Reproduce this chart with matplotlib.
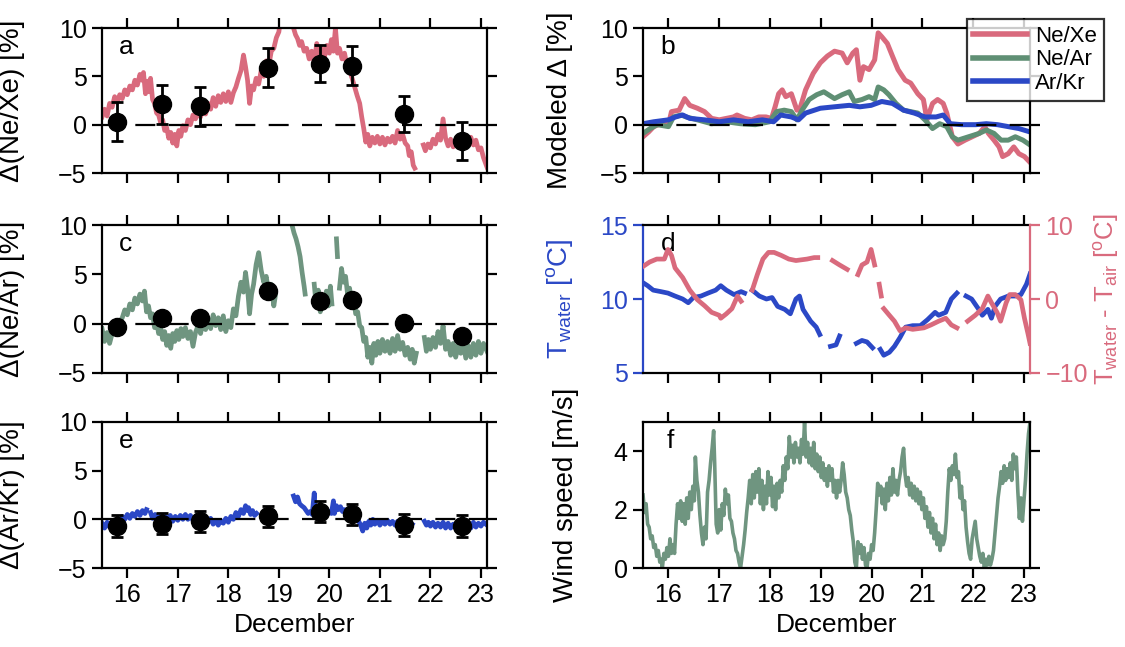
import numpy as np
import matplotlib
matplotlib.use("Agg")
import matplotlib.pyplot as plt

plt.rcParams['font.family'] = ['Liberation Sans', 'DejaVu Sans']
plt.rcParams['mathtext.default'] = 'regular'

# ---- colours ----
PINK = '#d96a7d'
GREEN = '#6f9580'
GREEN_B = '#5f8f74'
BLUE = '#2b48c6'

# ---- measured ratios (day of December, percent); None marks a gap ----
nexe_meas = [
    (15.50, 0.8), (15.55, 1.6), (15.60, 0.9), (15.65, 2.2), (15.70, 1.8), (15.75, 2.9), (15.80, 2.3),
    (15.85, 3.1), (15.90, 2.7), (15.95, 3.6), (16.00, 3.1), (16.05, 4.0), (16.10, 3.6), (16.15, 4.6),
    (16.20, 4.1), (16.25, 5.2), (16.29, 4.6), (16.32, 5.4), (16.36, 3.2), (16.40, 4.5), (16.43, 3.4),
    (16.46, 4.8), (16.50, 2.6), (16.54, 2.2), (16.58, 1.2), (16.62, 1.0), (16.66, 0.2), (16.70, 0.5),
    (16.74, -0.6), (16.78, -0.3), (16.82, -1.4), (16.86, -0.8), (16.90, -1.9), (16.94, -1.0),
    (16.98, -2.2), (17.02, -0.6), (17.06, -1.2), (17.10, -0.1), (17.15, -0.6), (17.20, 0.5),
    (17.25, 0.0), (17.30, 1.0), (17.35, 0.6), (17.40, 1.3), (17.45, 0.8), (17.50, 1.7), (17.55, 1.1),
    (17.60, 2.2), (17.65, 1.6), (17.70, 2.8), (17.75, 1.9), (17.80, 3.0), (17.85, 2.3), (17.90, 3.2),
    (17.95, 2.4), (18.00, 3.4), (18.05, 2.3), (18.10, 3.3), (18.15, 3.9), (18.20, 4.8), (18.25, 5.6),
    (18.30, 7.2), (18.34, 6.0), (18.38, 4.6), (18.42, 2.2), (18.46, 4.0), (18.50, 3.6), (18.55, 4.8),
    (18.60, 4.2), (18.65, 5.6), (18.70, 5.0), (18.75, 6.6), (18.80, 6.1), (18.85, 7.6), (18.90, 7.9),
    (18.95, 9.0), (19.00, 9.6), (19.02, 10.4), (19.10, None),
    (19.27, 10.4), (19.29, 10.0), (19.33, 9.3), (19.37, 8.9), (19.41, 8.2), (19.45, 8.6), (19.50, 7.6),
    (19.55, 7.9), (19.60, 6.8), (19.65, 7.6), (19.70, 6.4), (19.75, 8.4), (19.80, 7.2), (19.85, 7.9),
    (19.90, 6.9), (19.95, 8.2), (20.00, 7.4), (20.04, 8.8), (20.08, 7.6), (20.12, 10.0), (20.16, 7.4),
    (20.20, 7.9), (20.25, 6.8), (20.30, 7.4), (20.35, 6.0), (20.40, 5.6), (20.45, 4.8), (20.50, 3.9),
    (20.55, 3.0), (20.60, 2.2), (20.64, 0.8), (20.68, -0.4), (20.72, -1.8), (20.76, -1.0),
    (20.80, -2.2), (20.85, -1.3), (20.90, -1.9), (20.95, -1.2), (21.00, -2.0), (21.05, -1.3),
    (21.10, -2.1), (21.15, -1.4), (21.20, -1.8), (21.25, -1.2), (21.30, -1.9), (21.35, -0.6),
    (21.40, -1.5), (21.45, -1.0), (21.50, -1.9), (21.55, -2.2), (21.58, -3.2), (21.62, -2.8),
    (21.66, -4.2), (21.69, -4.5), (21.75, None),
    (21.86, -2.1), (21.90, -2.7), (21.95, -2.0), (22.00, -2.4), (22.05, -1.5), (22.10, -2.0),
    (22.15, -1.0), (22.20, -1.6), (22.25, 0.6), (22.30, -1.4), (22.35, -2.2), (22.40, -1.5),
    (22.45, -2.3), (22.50, -1.6), (22.55, -2.2), (22.60, -1.4), (22.65, -2.0), (22.70, -1.1),
    (22.75, -1.8), (22.80, -1.3), (22.85, -2.1), (22.90, -1.6), (22.95, -2.6), (23.00, -2.4),
    (23.05, -3.4), (23.12, -4.4),
]

near_meas = [
    (15.50, -0.5), (15.55, -1.8), (15.60, -0.9), (15.65, -2.0), (15.70, -1.0), (15.75, -0.3),
    (15.80, -0.8), (15.85, 0.2), (15.90, 0.6), (15.95, 1.4), (16.00, 0.9), (16.05, 2.0), (16.10, 1.4),
    (16.15, 2.6), (16.20, 2.0), (16.25, 3.0), (16.30, 2.3), (16.34, 3.3), (16.38, 1.2), (16.42, 1.8),
    (16.46, 0.6), (16.50, 1.0), (16.54, -0.4), (16.58, 0.2), (16.62, -1.0), (16.66, -0.4),
    (16.70, -1.6), (16.74, -0.8), (16.78, -2.2), (16.82, -1.2), (16.86, -2.5), (16.90, -1.0),
    (16.94, -1.8), (16.98, -0.7), (17.02, -1.6), (17.06, -0.5), (17.10, -1.3), (17.15, -0.4),
    (17.20, -1.5), (17.25, -0.8), (17.30, -2.3), (17.35, -0.9), (17.40, -0.2), (17.45, -1.0),
    (17.50, 0.2), (17.55, -0.6), (17.60, 0.5), (17.65, -0.5), (17.70, 0.9), (17.75, -0.2),
    (17.80, 0.6), (17.85, -0.6), (17.90, 0.8), (17.95, -0.8), (18.00, 0.3), (18.05, -0.4),
    (18.10, 1.5), (18.15, 0.8), (18.20, 2.8), (18.25, 4.2), (18.30, 3.2), (18.34, 5.2), (18.38, 3.6),
    (18.42, 1.0), (18.46, 3.0), (18.50, 4.0), (18.55, 6.0), (18.60, 7.2), (18.65, 5.4), (18.70, 4.2),
    (18.75, 4.8), (18.80, 3.0), (18.85, 4.0), (18.90, 1.8), (18.93, 2.8), (19.00, None),
    (19.26, 10.0), (19.30, 9.2), (19.34, 8.6), (19.38, 7.8), (19.42, 6.8), (19.46, 5.2), (19.50, 3.8),
    (19.52, 3.0), (19.60, None),
    (19.70, 4.0), (19.74, 1.8), (19.78, 3.4), (19.82, 1.2), (19.86, 2.8), (19.90, 1.6), (19.94, 3.3),
    (19.98, 1.8), (20.02, 3.8), (20.05, 2.0), (20.10, None),
    (20.14, 8.6), (20.16, 6.8), (20.18, None),
    (20.20, 3.6), (20.24, 5.6), (20.28, 4.2), (20.32, 4.8), (20.36, 3.0), (20.40, 3.6), (20.44, 2.0),
    (20.48, 2.6), (20.52, 1.0), (20.56, 1.2), (20.60, -0.2), (20.64, -0.4), (20.68, -1.8),
    (20.72, -1.4), (20.76, -3.4), (20.80, -2.4), (20.84, -4.0), (20.88, -2.0), (20.92, -3.2),
    (20.96, -1.8), (21.00, -3.0), (21.05, -1.6), (21.10, -2.8), (21.15, -1.8), (21.20, -3.0),
    (21.25, -1.5), (21.30, -2.8), (21.35, -1.2), (21.40, -2.6), (21.45, -1.9), (21.50, -3.2),
    (21.55, -2.4), (21.60, -3.6), (21.64, -2.6), (21.68, -4.0), (21.72, -3.0), (21.80, None),
    (21.88, -1.4), (21.92, -2.8), (21.96, -1.6), (22.00, -2.6), (22.05, -1.4), (22.10, -2.4),
    (22.15, -0.8), (22.20, -2.0), (22.25, -0.2), (22.30, -2.6), (22.35, -1.8), (22.40, -3.2),
    (22.45, -2.0), (22.50, -3.4), (22.55, -2.2), (22.60, -3.0), (22.65, -2.0), (22.70, -3.5),
    (22.75, -2.2), (22.80, -3.4), (22.85, -2.0), (22.90, -3.2), (22.95, -1.8), (23.00, -3.0),
    (23.05, -2.0), (23.12, -2.8),
]

arkr_meas = [
    (15.50, -0.4), (15.55, -0.9), (15.60, -0.3), (15.65, -0.8), (15.70, -0.2), (15.75, -0.5),
    (15.80, 0.0), (15.85, -0.3), (15.90, 0.3), (15.95, 0.0), (16.00, 0.5), (16.05, 0.1), (16.10, 0.6),
    (16.15, 0.3), (16.20, 0.8), (16.25, 0.4), (16.30, 0.9), (16.35, 0.6), (16.38, 1.0), (16.42, None),
    (16.46, 0.7), (16.50, 0.1), (16.55, 0.5), (16.60, -0.1), (16.65, 0.3), (16.70, -0.2), (16.75, 0.3),
    (16.80, -0.1), (16.85, 0.4), (16.90, -0.2), (16.95, 0.3), (17.00, -0.1), (17.05, 0.4), (17.10, 0.0),
    (17.15, 0.5), (17.20, 0.0), (17.25, 0.4), (17.30, -0.1), (17.35, 0.3), (17.40, -0.2), (17.45, 0.2),
    (17.50, -0.3), (17.55, 0.2), (17.60, -0.3), (17.65, 0.1), (17.70, -0.5), (17.75, -0.1),
    (17.80, -0.6), (17.85, -0.1), (17.90, -0.4), (17.95, 0.1), (18.00, -0.3), (18.05, 0.3),
    (18.10, 0.0), (18.15, 0.7), (18.20, 0.3), (18.25, 1.0), (18.30, 0.6), (18.34, 1.4), (18.38, 0.9),
    (18.40, 1.2), (18.44, 0.5), (18.48, 0.9), (18.52, 0.4), (18.56, 0.6), (18.60, None),
    (19.29, 2.4), (19.33, 1.8), (19.37, 2.3), (19.41, 1.6), (19.45, 1.4), (19.50, 1.2), (19.54, 0.9),
    (19.58, 0.6), (19.62, 0.8), (19.66, 0.5), (19.70, 2.7), (19.72, 0.6), (19.76, 0.8), (19.80, 0.4),
    (19.84, 0.9), (19.88, 0.5), (19.92, 0.7), (19.96, 0.5), (20.00, 0.8), (20.04, 0.6), (20.08, 1.9),
    (20.10, 0.6), (20.14, 1.4), (20.18, 1.0), (20.22, 1.3), (20.26, 0.8), (20.30, 1.0), (20.34, 0.6),
    (20.38, 0.8), (20.42, 0.4), (20.46, 0.6), (20.50, 0.2), (20.54, 0.4), (20.58, -0.2),
    (20.62, -0.6), (20.66, -1.2), (20.70, -0.4), (20.74, -0.9), (20.78, -0.2), (20.82, -0.6),
    (20.86, 0.0), (20.90, -0.5), (20.95, -0.1), (21.00, -0.6), (21.05, -0.2), (21.10, -0.5),
    (21.15, -0.1), (21.20, -0.5), (21.25, -0.2), (21.30, -0.6), (21.35, -0.2), (21.40, -0.7),
    (21.45, -0.3), (21.50, -0.7), (21.55, -0.4), (21.60, -0.8), (21.64, -0.5), (21.70, None),
    (21.88, -0.2), (21.92, -0.6), (21.96, -0.3), (22.00, -0.7), (22.05, -0.3), (22.10, -0.8),
    (22.15, -0.4), (22.20, -0.8), (22.25, -0.3), (22.30, -0.9), (22.35, -0.4), (22.40, -0.9),
    (22.45, -0.5), (22.50, -0.9), (22.55, -0.4), (22.60, -0.8), (22.65, -0.5), (22.70, -1.0),
    (22.75, -0.4), (22.80, -0.9), (22.85, -0.3), (22.90, -0.8), (22.95, -0.4), (23.00, -0.7),
    (23.05, -0.3), (23.12, -0.6),
]

# ---- discrete samples with uncertainty ----
sample_day = [15.79, 16.69, 17.43, 18.78, 19.81, 20.44, 21.47, 22.63]
nexe_pts = [0.3, 2.1, 1.9, 5.9, 6.3, 6.1, 1.1, -1.7]
nexe_err = [2.0, 2.0, 2.0, 2.0, 1.9, 2.0, 1.9, 2.0]
near_pts = [-0.3, 0.6, 0.6, 3.3, 2.3, 2.4, 0.1, -1.3]
near_err = [0.5, 0.5, 0.5, 0.5, 0.5, 0.5, 0.5, 0.5]
arkr_pts = [-0.7, -0.45, -0.2, 0.3, 0.8, 0.5, -0.6, -0.7]
arkr_err = [1.1, 1.1, 1.1, 1.1, 1.1, 1.1, 1.1, 1.1]

# ---- modelled ratios ----
model_nexe = [
    (15.50, -1.25), (15.61, -0.75), (15.71, -0.2), (15.85, 0.1), (16.00, 0.0), (16.06, 1.35),
    (16.21, 1.5), (16.32, 2.7), (16.42, 2.0), (16.57, 1.7), (16.71, 1.35), (16.85, 0.65),
    (17.00, 0.5), (17.14, 0.65), (17.28, 0.8), (17.35, 1.0), (17.50, 0.65), (17.64, 0.5),
    (17.78, 0.8), (17.92, 0.8), (18.03, 0.65), (18.10, 1.85), (18.17, 3.2), (18.24, 3.6),
    (18.31, 2.9), (18.42, 3.2), (18.53, 1.5), (18.60, 1.85), (18.70, 3.6), (18.85, 5.3),
    (18.99, 6.4), (19.13, 7.1), (19.27, 7.6), (19.42, 7.4), (19.52, 6.4), (19.63, 7.4),
    (19.70, 7.75), (19.77, 4.6), (19.84, 6.0), (19.95, 5.7), (20.06, 6.7), (20.13, 9.5),
    (20.20, 9.1), (20.31, 8.4), (20.41, 7.1), (20.52, 5.7), (20.66, 4.6), (20.77, 4.3),
    (20.91, 3.2), (21.02, 2.6), (21.09, 0.5), (21.20, 2.2), (21.30, 2.6), (21.41, 2.2),
    (21.48, 1.2), (21.59, -1.25), (21.70, -2.0), (21.84, -1.6), (21.98, -1.25), (22.12, -0.9),
    (22.23, -0.2), (22.30, -0.9), (22.41, -1.6), (22.51, -2.3), (22.58, -3.3), (22.69, -3.0),
    (22.80, -2.3), (22.90, -3.0), (23.01, -3.3), (23.12, -3.9),
]
model_near = [
    (15.50, -0.9), (15.64, -0.4), (15.78, 0.0), (16.00, -0.2), (16.10, 0.8), (16.25, 1.0),
    (16.35, 0.8), (16.57, 0.5), (16.85, 0.1), (17.14, 0.3), (17.42, 0.1), (17.71, 0.0),
    (17.99, 0.3), (18.13, 1.35), (18.28, 1.5), (18.42, 1.35), (18.53, 0.5), (18.63, 1.5),
    (18.77, 2.6), (18.92, 3.1), (19.06, 3.4), (19.27, 2.7), (19.42, 3.1), (19.56, 3.4),
    (19.66, 2.4), (19.81, 2.6), (19.95, 2.9), (20.06, 2.6), (20.13, 3.9), (20.24, 3.6),
    (20.34, 3.1), (20.48, 2.2), (20.63, 1.5), (20.77, 1.35), (20.91, 1.2), (21.05, 0.5),
    (21.20, -0.4), (21.34, 0.1), (21.48, -0.2), (21.59, -1.25), (21.70, -1.6), (21.91, -1.25),
    (22.12, -0.9), (22.26, -0.55), (22.41, -0.9), (22.55, -1.6), (22.69, -1.6), (22.83, -1.25),
    (22.98, -1.6), (23.12, -2.1),
]
model_arkr = [
    (15.50, 0.1), (15.71, 0.3), (16.00, 0.5), (16.14, 0.8), (16.28, 1.0), (16.42, 0.65),
    (16.71, 0.5), (17.00, 0.3), (17.28, 0.5), (17.57, 0.3), (17.85, 0.5), (18.07, 0.3),
    (18.21, 1.0), (18.42, 0.8), (18.56, 0.5), (18.70, 1.2), (18.99, 1.7), (19.27, 1.85),
    (19.56, 2.0), (19.77, 1.85), (19.99, 2.0), (20.20, 2.4), (20.41, 2.2), (20.63, 1.5),
    (20.84, 1.2), (21.05, 0.8), (21.27, 0.8), (21.41, 1.0), (21.55, 0.1), (21.77, 0.0),
    (22.05, 0.0), (22.26, 0.1), (22.48, 0.0), (22.69, -0.2), (22.90, -0.4), (23.12, -0.75),
]

# ---- water temperature and water-air difference ----
t_water = [
    (15.50, 11.1), (15.59, 10.9), (15.70, 10.6), (15.85, 10.5), (15.99, 10.4), (16.13, 10.2),
    (16.28, 10.0), (16.39, 9.75), (16.49, 10.1), (16.64, 10.2), (16.78, 10.4), (16.93, 10.6),
    (17.03, 10.9), (17.14, 10.6), (17.29, 10.3), (17.43, 10.5), (17.50, 10.4), (17.57, None),
    (17.65, 10.6), (17.79, 10.2), (17.93, 10.0), (18.04, 10.1), (18.15, 9.5), (18.29, 9.3),
    (18.40, 9.0), (18.51, 10.0), (18.58, 10.2), (18.65, 9.3), (18.80, 8.5), (18.91, 8.1),
    (18.98, 7.6), (19.08, None),
    (19.19, 6.8), (19.30, 6.9), (19.37, 7.5), (19.50, None),
    (19.70, 7.0), (19.81, 7.2), (19.91, 7.1), (20.02, 6.7), (20.10, None),
    (20.17, 6.6), (20.24, 6.2), (20.35, 6.4), (20.45, 6.8), (20.56, 7.4), (20.67, 8.1),
    (20.81, 8.2), (20.96, 8.2), (21.10, 8.6), (21.25, 9.1), (21.32, 8.9), (21.46, 9.1),
    (21.57, 10.0), (21.68, 10.4), (21.77, None),
    (21.86, 10.2), (21.97, 10.0), (22.11, 9.3), (22.18, 8.9), (22.29, 9.3), (22.36, 8.7),
    (22.43, 9.5), (22.54, 10.0), (22.69, 10.2), (22.83, 10.2), (22.94, 10.3), (23.05, 11.0),
    (23.12, 11.7),
]
t_diff = [
    (15.50, 4.4), (15.63, 5.0), (15.77, 5.4), (15.92, 5.4), (15.99, 6.7), (16.06, 5.9),
    (16.13, 4.2), (16.28, 2.9), (16.42, 1.2), (16.57, -0.1), (16.71, -0.9), (16.85, -1.8),
    (17.00, -2.2), (17.03, -2.6), (17.14, -2.0), (17.25, -1.3), (17.36, 0.4), (17.43, -0.3),
    (17.55, None),
    (17.65, 1.2), (17.75, 3.3), (17.86, 5.4), (17.97, 6.3), (18.08, 6.3), (18.22, 5.9),
    (18.37, 5.4), (18.51, 5.2), (18.73, 5.4), (18.87, 5.6), (18.94, 5.6), (19.05, None),
    (19.23, 5.2), (19.37, 4.6), (19.52, 4.0), (19.62, None),
    (19.73, 3.3), (19.81, 4.6), (19.91, 5.0), (19.99, 6.7), (20.06, 4.6), (20.11, None),
    (20.15, 2.0), (20.19, 0.4), (20.21, None),
    (20.24, -1.3), (20.35, -2.2), (20.45, -3.0), (20.56, -4.3), (20.67, -3.9), (20.81, -4.1),
    (21.03, -3.9), (21.17, -3.5), (21.32, -3.0), (21.46, -2.6), (21.57, -3.5), (21.68, -3.9),
    (21.78, None),
    (21.89, -3.0), (22.04, -2.2), (22.18, -1.3), (22.29, 0.4), (22.36, -0.5), (22.47, -1.8),
    (22.54, -3.0), (22.65, -0.5), (22.72, 0.6), (22.83, 0.6), (22.94, -0.1), (23.01, -2.6),
    (23.08, -4.7), (23.12, -6.0),
]

# ---- wind speed (m/s) ----
wind = [
    (15.50, 2.5), (15.53, 1.9), (15.56, 2.2), (15.59, 1.5), (15.62, 1.4), (15.65, 1.0), (15.68, 1.1),
    (15.71, 0.7), (15.74, 0.8), (15.77, 0.4), (15.80, 0.6), (15.83, 0.2), (15.86, 0.3), (15.88, 0.0),
    (15.91, 0.5), (15.94, 0.3), (15.97, 0.7), (16.00, 0.4), (16.03, 1.0), (16.06, 0.5), (16.09, 0.8),
    (16.12, 0.5), (16.15, 1.5), (16.18, 2.2), (16.21, 1.7), (16.24, 2.3), (16.27, 1.6), (16.30, 2.2),
    (16.33, 1.5), (16.36, 2.4), (16.39, 1.7), (16.42, 2.6), (16.45, 2.0), (16.48, 2.8), (16.51, 2.3),
    (16.53, 3.8), (16.56, 3.0), (16.59, 2.6), (16.62, 1.8), (16.65, 1.2), (16.68, 0.8), (16.71, 1.4),
    (16.74, 1.0), (16.77, 2.6), (16.80, 3.0), (16.83, 3.6), (16.86, 4.1), (16.89, 4.7), (16.91, 3.6),
    (16.94, 1.5), (16.97, 1.2), (17.00, 2.0), (17.03, 1.3), (17.06, 2.2), (17.09, 1.8), (17.12, 2.7),
    (17.15, 2.2), (17.18, 2.5), (17.21, 1.7), (17.24, 1.6), (17.27, 1.2), (17.30, 1.0), (17.33, 0.6),
    (17.36, 0.5), (17.39, 0.2), (17.42, 0.0), (17.45, 0.4), (17.48, 0.8), (17.51, 1.3), (17.54, 1.9),
    (17.57, 2.4), (17.60, 3.0), (17.63, 2.2), (17.66, 3.2), (17.69, 2.4), (17.72, 3.3), (17.75, 2.6),
    (17.78, 3.4), (17.81, 2.2), (17.84, 3.0), (17.87, 2.0), (17.90, 2.8), (17.93, 2.2), (17.96, 3.3),
    (17.99, 2.5), (18.02, 3.1), (18.05, 2.1), (18.08, 2.8), (18.11, 2.0), (18.14, 2.9), (18.17, 2.4),
    (18.20, 3.0), (18.23, 2.6), (18.26, 3.5), (18.29, 3.0), (18.32, 3.8), (18.35, 3.4), (18.38, 4.5),
    (18.41, 3.8), (18.44, 4.2), (18.47, 3.6), (18.50, 4.3), (18.53, 3.8), (18.56, 4.1), (18.59, 3.6),
    (18.62, 4.4), (18.65, 3.9), (18.68, 5.0), (18.71, 3.8), (18.74, 4.3), (18.77, 3.6), (18.80, 4.1),
    (18.83, 3.5), (18.86, 4.3), (18.89, 3.4), (18.92, 3.9), (18.95, 3.3), (18.98, 3.8), (19.01, 3.1),
    (19.04, 3.6), (19.07, 3.0), (19.10, 3.4), (19.13, 2.8), (19.16, 3.5), (19.19, 3.0), (19.22, 3.4),
    (19.25, 2.6), (19.28, 3.0), (19.31, 2.4), (19.34, 3.0), (19.37, 2.6), (19.40, 3.0), (19.43, 3.6),
    (19.46, 3.2), (19.49, 2.6), (19.52, 2.4), (19.55, 2.0), (19.58, 1.8), (19.61, 1.3), (19.64, 0.9),
    (19.67, 0.2), (19.70, 0.0), (19.73, 0.9), (19.76, 0.5), (19.79, 0.8), (19.82, 0.3), (19.85, 0.7),
    (19.88, 0.1), (19.91, 0.0), (19.94, 0.5), (19.97, 0.3), (20.00, 0.8), (20.03, 0.6), (20.06, 1.2),
    (20.09, 2.0), (20.12, 2.9), (20.15, 2.5), (20.18, 2.8), (20.21, 2.2), (20.24, 2.7), (20.27, 2.0),
    (20.30, 2.9), (20.33, 2.3), (20.36, 3.1), (20.39, 2.5), (20.42, 3.4), (20.45, 2.6), (20.48, 3.0),
    (20.51, 2.5), (20.54, 3.0), (20.57, 3.3), (20.60, 3.8), (20.63, 4.1), (20.66, 3.2), (20.69, 2.8),
    (20.72, 3.1), (20.75, 2.5), (20.78, 2.9), (20.81, 2.4), (20.84, 2.8), (20.87, 2.3), (20.90, 2.7),
    (20.93, 2.2), (20.96, 2.6), (20.99, 2.0), (21.02, 2.4), (21.05, 1.7), (21.08, 2.1), (21.11, 1.4),
    (21.14, 1.9), (21.17, 1.2), (21.20, 1.7), (21.23, 1.0), (21.26, 1.5), (21.29, 0.8), (21.32, 1.2),
    (21.35, 0.6), (21.38, 1.1), (21.41, 0.8), (21.44, 1.0), (21.47, 1.6), (21.50, 2.6), (21.53, 3.4),
    (21.56, 3.0), (21.59, 3.5), (21.62, 3.2), (21.65, 3.9), (21.68, 3.1), (21.71, 3.3), (21.74, 2.4),
    (21.77, 2.8), (21.80, 2.0), (21.83, 2.3), (21.86, 1.4), (21.89, 0.9), (21.92, 0.5), (21.95, 0.3),
    (21.98, 1.0), (22.01, 1.3), (22.04, 1.6), (22.07, 1.0), (22.10, 0.7), (22.13, 0.4), (22.16, 0.2),
    (22.19, 0.5), (22.22, 0.0), (22.25, 0.3), (22.28, 0.1), (22.31, 0.4), (22.34, 0.1), (22.37, 0.3),
    (22.40, 0.6), (22.43, 1.2), (22.46, 1.8), (22.49, 2.4), (22.52, 2.8), (22.55, 3.3), (22.58, 2.9),
    (22.61, 3.5), (22.64, 3.0), (22.67, 3.4), (22.70, 3.1), (22.73, 3.6), (22.76, 3.0), (22.79, 3.9),
    (22.82, 3.4), (22.85, 3.8), (22.88, 2.6), (22.91, 1.7), (22.94, 2.4), (22.97, 1.6), (23.00, 2.3),
    (23.03, 3.0), (23.06, 3.9), (23.09, 4.6), (23.12, 5.0),
]

day_ticks = [16, 17, 18, 19, 20, 21, 22, 23]
XLIM = (15.5, 23.12)
TICK_FS = 18
LABEL_FS = 20


def cols(pairs):
    arr = np.array(pairs, dtype=float)
    return arr[:, 0], arr[:, 1]


def style_axes(ax):
    for sp in ax.spines.values():
        sp.set_linewidth(1.6)
    ax.tick_params(direction='out', length=7, width=1.6, labelsize=TICK_FS,
                   top=True, right=True, pad=4)
    ax.set_xlim(*XLIM)
    ax.set_xticks(day_ticks)


def zero_line(ax):
    ax.axhline(0, color='black', lw=1.6, ls=(0, (9, 6)), zorder=3)


def panel_tag(ax, tag, x=0.045):
    ax.text(x, 0.87, tag, transform=ax.transAxes, fontsize=19, va='center', zorder=6)


fig = plt.figure(figsize=(11.25, 6.47), dpi=100)
LX, LW = 0.0907, 0.3422
RX, RW = 0.5716, 0.344
rows = [(0.7326, 0.2241), (0.4235, 0.2287), (0.1221, 0.2257)]

ax_a = fig.add_axes([LX, rows[0][0], LW, rows[0][1]])
ax_c = fig.add_axes([LX, rows[1][0], LW, rows[1][1]])
ax_e = fig.add_axes([LX, rows[2][0], LW, rows[2][1]])
ax_b = fig.add_axes([RX, rows[0][0], RW, rows[0][1]])
ax_d = fig.add_axes([RX, rows[1][0], RW, rows[1][1]])
ax_f = fig.add_axes([RX, rows[2][0], RW, rows[2][1]])

# left column: measured ratios with discrete samples
left_panels = [
    (ax_a, nexe_meas, PINK, nexe_pts, nexe_err, 'a', 'Δ(Ne/Xe) [%]'),
    (ax_c, near_meas, GREEN, near_pts, near_err, 'c', 'Δ(Ne/Ar) [%]'),
    (ax_e, arkr_meas, BLUE, arkr_pts, arkr_err, 'e', 'Δ(Ar/Kr) [%]'),
]
for ax, series, col, pts, err, tag, ylab in left_panels:
    x, y = cols(series)
    ax.plot(x, y, color=col, lw=3.4, zorder=2)
    zero_line(ax)
    ax.errorbar(sample_day, pts, yerr=err, fmt='o', color='black', ms=13,
                elinewidth=2, capsize=4, capthick=2, zorder=5)
    style_axes(ax)
    ax.set_ylim(-5, 10)
    ax.set_yticks([-5, 0, 5, 10])
    ax.set_ylabel(ylab, fontsize=LABEL_FS)
    ax.yaxis.set_label_coords(-0.2, 0.5)
    panel_tag(ax, tag)
    if ax is not ax_e:
        ax.tick_params(labelbottom=False)

ax_e.set_xlabel('December', fontsize=19, labelpad=4)

# b: modelled ratios
for series, col, lab in [(model_nexe, PINK, 'Ne/Xe'), (model_near, GREEN_B, 'Ne/Ar'),
                         (model_arkr, BLUE, 'Ar/Kr')]:
    x, y = cols(series)
    ax_b.plot(x, y, color=col, lw=3.6, label=lab, zorder=2)
zero_line(ax_b)
style_axes(ax_b)
ax_b.set_ylim(-5, 10)
ax_b.set_yticks([-5, 0, 5, 10])
ax_b.tick_params(labelbottom=False)
ax_b.set_ylabel('Modeled Δ [%]', fontsize=LABEL_FS)
ax_b.yaxis.set_label_coords(-0.18, 0.5)
panel_tag(ax_b, 'b')
leg = ax_b.legend(loc='upper right', bbox_to_anchor=(0.9813, 0.9706),
                  bbox_transform=fig.transFigure, fontsize=16, frameon=True,
                  fancybox=False, edgecolor='black', borderaxespad=0,
                  handlelength=2.4, handletextpad=0.4, labelspacing=0.12,
                  borderpad=0.3)
leg.get_frame().set_linewidth(1.6)
for h in leg.get_lines():
    h.set_linewidth(4)
leg.set_zorder(10)

# d: water temperature (left) and water-air difference (right)
x, y = cols(t_water)
ax_d.plot(x, y, color=BLUE, lw=3.4, zorder=3)
style_axes(ax_d)
ax_d.tick_params(right=False, labelbottom=False)
ax_d.tick_params(axis='y', colors=BLUE)
ax_d.spines['left'].set_color(BLUE)
ax_d.spines['right'].set_visible(False)
ax_d.set_ylim(5, 15)
ax_d.set_yticks([5, 10, 15])
ax_d.set_ylabel('T$_{water}$ [$^{o}$C]', fontsize=LABEL_FS, color=BLUE)
ax_d.yaxis.set_label_coords(-0.175, 0.5)
ax_d.set_zorder(2)
ax_d.patch.set_visible(False)
panel_tag(ax_d, 'd')

ax_d2 = ax_d.twinx()
x, y = cols(t_diff)
ax_d2.plot(x, y, color=PINK, lw=3.4, zorder=2)
ax_d2.set_ylim(-10, 10)
ax_d2.set_yticks([-10, 0, 10])
for side in ['left', 'top', 'bottom']:
    ax_d2.spines[side].set_visible(False)
ax_d2.spines['right'].set_color(PINK)
ax_d2.spines['right'].set_linewidth(1.6)
ax_d2.tick_params(axis='y', direction='out', length=7, width=1.6, labelsize=TICK_FS,
                  colors=PINK, pad=4)
ax_d2.set_ylabel('T$_{water}$ - T$_{air}$ [$^{o}$C]', fontsize=18.5, color=PINK)
ax_d2.yaxis.set_label_coords(1.16, 0.5)

# f: wind speed
x, y = cols(wind)
ax_f.plot(x, y, color=GREEN, lw=2.6, zorder=2)
style_axes(ax_f)
ax_f.set_ylim(0, 5)
ax_f.set_yticks([0, 2, 4])
ax_f.set_ylabel('Wind speed [m/s]', fontsize=LABEL_FS)
ax_f.yaxis.set_label_coords(-0.165, 0.5)
ax_f.set_xlabel('December', fontsize=19, labelpad=4)
panel_tag(ax_f, 'f', x=0.06)

fig.savefig('out.png', dpi=100)
